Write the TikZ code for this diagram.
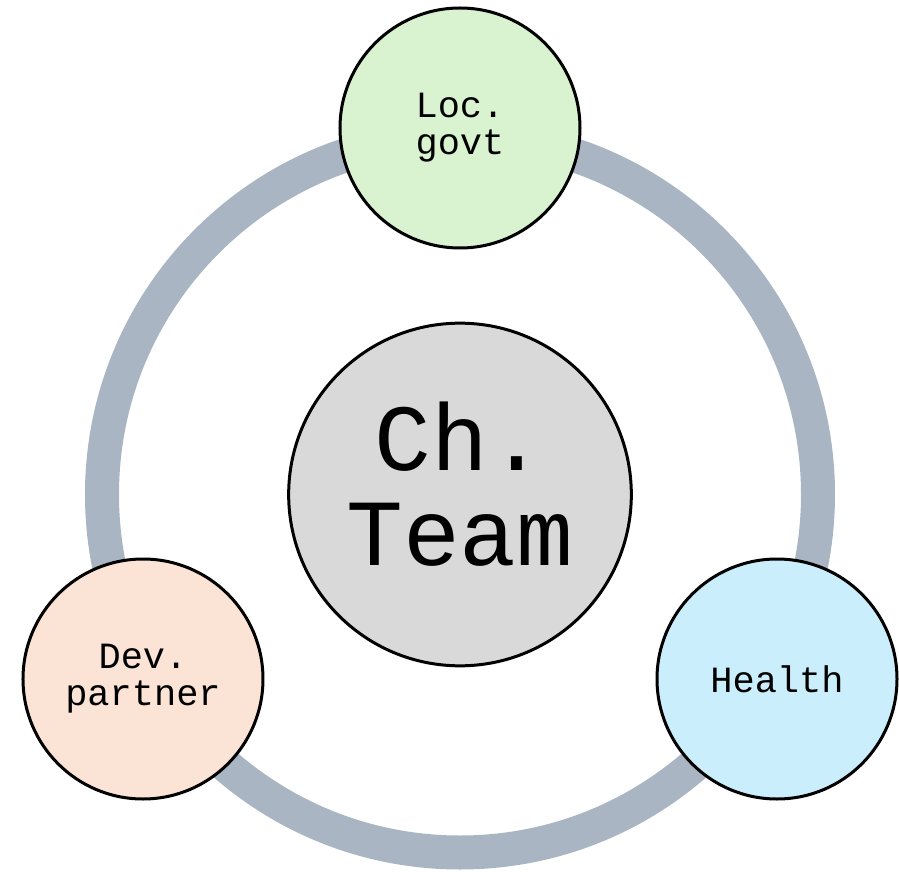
\documentclass[tikz,border=0pt]{standalone}
\usepackage{fontspec}
\setmonofont{Liberation Mono}
\definecolor{ringgray}{HTML}{A9B5C2}
\definecolor{govtgreen}{HTML}{D9F2D0}
\definecolor{devpeach}{HTML}{FBE3D6}
\definecolor{healthblue}{HTML}{CAEEFB}
\definecolor{teamgray}{HTML}{D9D9D9}

\begin{document}
\begin{tikzpicture}[x=0.75pt,y=0.75pt,
	party/.style={circle,draw=black,line width=2.25pt,minimum size=180pt,inner sep=0pt,align=center,font=\ttfamily\fontsize{27.75}{27.75}\selectfont}]
			\useasboundingbox (-460,-376.5) rectangle (439,494.5);
			\draw[ringgray,line width=25.5pt] (0,0) circle (268.5pt);
			\node[circle,draw=black,line width=2.25pt,fill=teamgray,minimum size=257pt,inner sep=0pt,align=center,font=\ttfamily\fontsize{71}{71}\selectfont] (team) at (0,0) {Ch.\\Team\rule[-16pt]{0pt}{16pt}};
			\node[party,fill=govtgreen] (govt) at (0,366.5) {Loc.\\govt};
			\node[party,fill=devpeach] (dev) at (-317,-184.5) {Dev.\\partner};
			\node[party,fill=healthblue] (health) at (317,-184.5) {Health};
		\end{tikzpicture}
\end{document}
